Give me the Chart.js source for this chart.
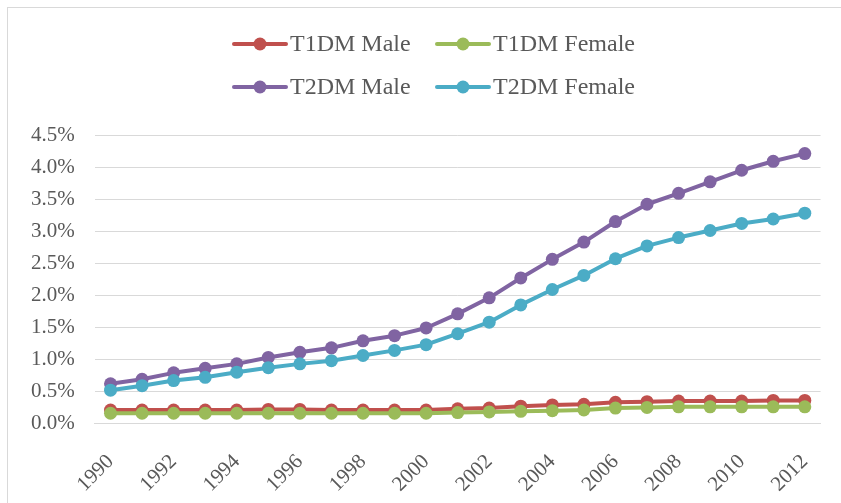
<!DOCTYPE html>
<html>
<head>
<meta charset="utf-8">
<script src="https://cdn.jsdelivr.net/npm/chart.js@4.4.0/dist/chart.umd.min.js"></script>
<style>
    body { margin: 0; background: #fff; overflow: hidden; }
    #wrap { position: relative; width: 841px; height: 503px; }
    #frame { position: absolute; left: 7px; top: 7px; width: 900px; height: 600px; border: 1px solid #d9d9d9; }
    #chart { position: absolute; left: 0; top: 0; }
</style>
</head>
<body>
<div id="wrap">
    <div id="frame"></div>
    <canvas id="chart" width="841" height="503"></canvas>
</div>
<script>
// Data (prevalence, %)
const years = ['1990', '1991', '1992', '1993', '1994', '1995', '1996', '1997', '1998', '1999', '2000',
    '2001', '2002', '2003', '2004', '2005', '2006', '2007', '2008', '2009', '2010', '2011', '2012'];

const t1dmMale = [0.21, 0.21, 0.21, 0.21, 0.21, 0.22, 0.22, 0.21, 0.21, 0.21, 0.21,
    0.23, 0.24, 0.27, 0.29, 0.30, 0.33, 0.34, 0.35, 0.35, 0.35, 0.36, 0.36];
const t1dmFemale = [0.16, 0.16, 0.16, 0.16, 0.16, 0.16, 0.16, 0.16, 0.16, 0.16, 0.16,
    0.17, 0.18, 0.19, 0.20, 0.21, 0.24, 0.25, 0.26, 0.26, 0.26, 0.26, 0.26];
const t2dmMale = [0.62, 0.69, 0.79, 0.86, 0.93, 1.03, 1.11, 1.18, 1.29, 1.37, 1.49,
    1.71, 1.96, 2.27, 2.56, 2.83, 3.15, 3.42, 3.59, 3.77, 3.95, 4.09, 4.21];
const t2dmFemale = [0.52, 0.59, 0.67, 0.72, 0.80, 0.87, 0.93, 0.98, 1.06, 1.14, 1.23,
    1.40, 1.58, 1.85, 2.09, 2.31, 2.57, 2.77, 2.90, 3.01, 3.12, 3.19, 3.28];

const yTicks = { min: 0, max: 4.5, step: 0.5 };

const seriesNames = ['T1DM Male', 'T1DM Female', 'T2DM Male', 'T2DM Female'];
const seriesData = [t1dmMale, t1dmFemale, t2dmMale, t2dmFemale];
const seriesColors = ['#C0504D', '#9BBB59', '#8064A2', '#4BACC6'];
// later series sit on top, like the original
const seriesOrder = [3, 2, 1, 0];

const textColor = '#595959';
const fontFamily = "'Liberation Serif', 'Times New Roman', serif";

// Two-column legend drawn above the plot
const legendPlugin = {
    id: 'gridLegend',
    afterDraw(chart) {
        const ctx = chart.ctx;
        const cols = [232, 435];
        const rows = [44, 87];
        ctx.save();
        chart.data.datasets.forEach((ds, i) => {
            const x = cols[i % 2];
            const y = rows[Math.floor(i / 2)];
            ctx.strokeStyle = ds.borderColor;
            ctx.lineWidth = 4;
            ctx.lineCap = 'round';
            ctx.beginPath();
            ctx.moveTo(x + 2, y);
            ctx.lineTo(x + 54, y);
            ctx.stroke();
            ctx.fillStyle = ds.borderColor;
            ctx.beginPath();
            ctx.arc(x + 28, y, 6.5, 0, Math.PI * 2);
            ctx.fill();
            ctx.fillStyle = textColor;
            ctx.font = '24px ' + fontFamily;
            ctx.textBaseline = 'middle';
            ctx.textAlign = 'left';
            ctx.fillText(ds.label, x + 58, y + 1);
        });
        ctx.restore();
    }
};

const ctx = document.getElementById('chart').getContext('2d');
const chart = new Chart(ctx, {
    type: 'line',
    data: {
        labels: years,
        datasets: seriesNames.map((name, i) => ({
            label: name,
            data: seriesData[i],
            borderColor: seriesColors[i],
            backgroundColor: seriesColors[i],
            pointBackgroundColor: seriesColors[i],
            pointBorderWidth: 0,
            pointRadius: 6.5,
            borderWidth: 4,
            borderCapStyle: 'round',
            borderJoinStyle: 'round',
            tension: 0,
            order: seriesOrder[i]
        }))
    },
    options: {
        responsive: false,
        animation: false,
        devicePixelRatio: 1,
        layout: {
            padding: {
                top: 135,
                right: 18,
                bottom: -12,
                left: 11
            }
        },
        scales: {
            x: {
                offset: true,
                grid: { display: false },
                border: { display: true, color: '#d9d9d9', width: 1 },
                ticks: {
                    autoSkip: false,
                    maxRotation: 45,
                    minRotation: 45,
                    padding: 18,
                    color: textColor,
                    font: { family: fontFamily, size: 21 },
                    callback: function(value, index) {
                        return index % 2 === 0 ? this.getLabelForValue(value) : '';
                    }
                }
            },
            y: {
                min: yTicks.min,
                max: yTicks.max,
                border: { display: false },
                grid: { color: '#d9d9d9', lineWidth: 1, drawTicks: false },
                ticks: {
                    stepSize: yTicks.step,
                    padding: 20,
                    color: textColor,
                    font: { family: fontFamily, size: 21 },
                    callback: function(value) {
                        return value.toFixed(1) + '%';
                    }
                }
            }
        },
        plugins: {
            legend: { display: false },
            tooltip: { enabled: false }
        }
    },
    plugins: [legendPlugin]
});
</script>
</body>
</html>
